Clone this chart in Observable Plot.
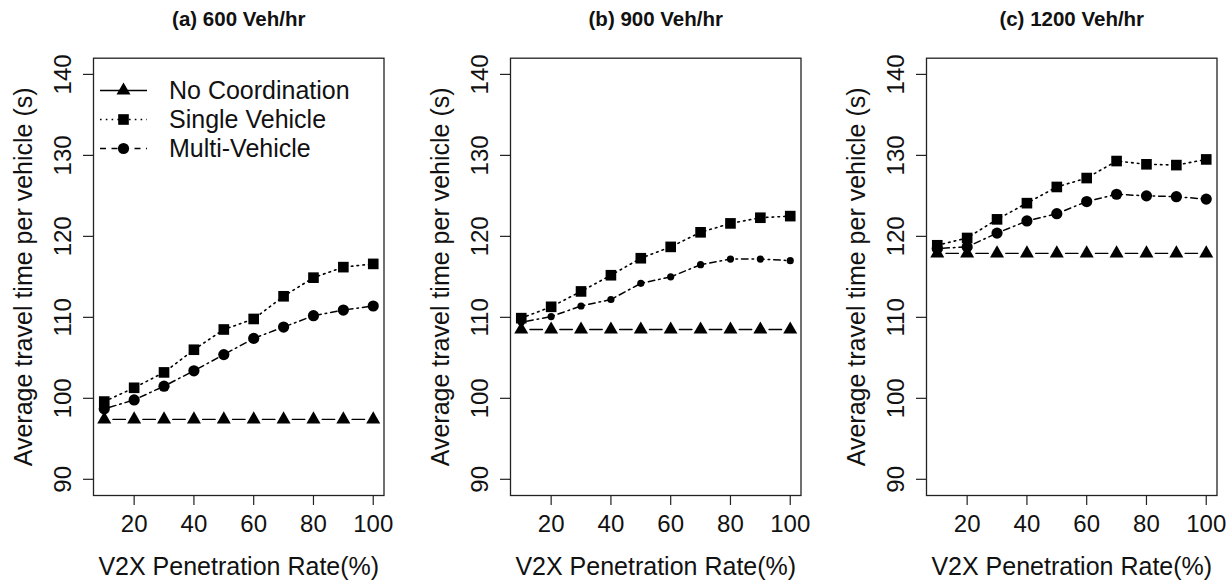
<!DOCTYPE html>
<html>
<head>
<meta charset="utf-8">
<script src="https://cdn.jsdelivr.net/npm/d3@7"></script>
<script src="https://cdn.jsdelivr.net/npm/@observablehq/plot@0.6"></script>
<style>
  html, body { margin: 0; padding: 0; background: #fff; overflow: hidden; }
  #root { position: relative; width: 1232px; height: 581px; overflow: hidden; font-family: "Liberation Sans", Arial, sans-serif; }
  .panel { position: absolute; top: 0; width: 416px; height: 581px; }
  .panel svg { max-width: none !important; width: 416px; height: 581px; }
  #legend { position: absolute; left: 100px; top: 75.5px; font-size: 25px; color: #111; }
  #legend .row { height: 29px; line-height: 29px; display: flex; align-items: center; white-space: nowrap; }
  #legend svg { display: block; margin-right: 22px; }
</style>
</head>
<body>
<div id="root"></div>
<script>
// ---------------- data ----------------
const penetration = [10, 20, 30, 40, 50, 60, 70, 80, 90, 100];

const panelTitles = ["(a) 600 Veh/hr", "(b) 900 Veh/hr", "(c) 1200 Veh/hr"];
const seriesNames = ["No Coordination", "Single Vehicle", "Multi-Vehicle"];

// (a) 600 Veh/hr
const noCoord600 = [97.4, 97.4, 97.4, 97.4, 97.4, 97.4, 97.4, 97.4, 97.4, 97.4];
const single600  = [99.6, 101.3, 103.2, 106.0, 108.5, 109.8, 112.6, 114.9, 116.2, 116.6];
const multi600   = [98.7, 99.8, 101.5, 103.4, 105.4, 107.4, 108.8, 110.2, 110.9, 111.4];

// (b) 900 Veh/hr
const noCoord900 = [108.5, 108.5, 108.5, 108.5, 108.5, 108.5, 108.5, 108.5, 108.5, 108.5];
const single900  = [109.9, 111.3, 113.2, 115.2, 117.3, 118.7, 120.5, 121.6, 122.3, 122.5];
const multi900   = [109.4, 110.1, 111.4, 112.2, 114.2, 115.0, 116.5, 117.2, 117.2, 117.0];

// (c) 1200 Veh/hr
const noCoord1200 = [117.9, 117.9, 117.9, 117.9, 117.9, 117.9, 117.9, 117.9, 117.9, 117.9];
const single1200  = [118.9, 119.8, 122.1, 124.1, 126.1, 127.2, 129.3, 128.9, 128.8, 129.5];
const multi1200   = [118.5, 118.7, 120.4, 121.9, 122.8, 124.3, 125.2, 125.0, 124.9, 124.6];

const xTicks = [20, 40, 60, 80, 100];
const yTicks = [90, 100, 110, 120, 130, 140];
const xLabel = "V2X Penetration Rate(%)";
const yLabel = "Average travel time per vehicle (s)";

// ---------------- drawing ----------------
const panels = [
  {title: panelTitles[0], series: [noCoord600, single600, multi600], left: 0, circleR: 5.6},
  {title: panelTitles[1], series: [noCoord900, single900, multi900], left: 417, circleR: 3.6},
  {title: panelTitles[2], series: [noCoord1200, single1200, multi1200], left: 833, circleR: 5.6}
];

const rowsOf = (vals) => penetration.map((x, i) => ({x, y: vals[i]}));
const FONT = "'Liberation Sans', Arial, sans-serif";

const root = document.getElementById("root");

panels.forEach((p) => {
  const [nc, sv, mv] = p.series.map(rowsOf);
  const chart = Plot.plot({
    width: 416,
    height: 581,
    marginLeft: 93,
    marginRight: 32.5,
    marginTop: 57.7,
    marginBottom: 86,
    style: {fontFamily: FONT, color: "#111", background: "#fff", overflow: "visible"},
    x: {domain: [6.4, 103.6]},
    y: {domain: [88, 142]},
    marks: [
      Plot.axisX({ticks: xTicks, tickSize: 10, tickPadding: 9, fontSize: 24, label: null, stroke: "#222", strokeWidth: 1.2}),
      Plot.axisY({ticks: yTicks, tickSize: 10, tickPadding: 13, tickRotate: -90, fontSize: 24, label: null, stroke: "#222", strokeWidth: 1.2}),
      // no coordination: dashed, one dash between markers
      Plot.line(nc, {x: "x", y: "y", stroke: "#000", strokeWidth: 1.4, strokeDasharray: "12.5,17.39", strokeDashoffset: 21.2}),
      Plot.line(sv, {x: "x", y: "y", stroke: "#000", strokeWidth: 1.6, strokeDasharray: "1.6,4.2"}),
      Plot.line(mv, {x: "x", y: "y", stroke: "#000", strokeWidth: 1.5, strokeDasharray: "1.6,4,6.5,4"}),
      Plot.dot(nc, {x: "x", y: "y", symbol: "triangle", r: 5.2, fill: "#000", stroke: null}),
      Plot.dot(sv, {x: "x", y: "y", symbol: "square", r: 6.0, fill: "#000", stroke: null}),
      Plot.dot(mv, {x: "x", y: "y", symbol: "circle", r: p.circleR, fill: "#000", stroke: null}),
      Plot.frame({stroke: "#222", strokeWidth: 1.3}),
      Plot.text([p.title], {frameAnchor: "top", dy: -39, textAnchor: "middle", lineAnchor: "middle", fontSize: 20.5, fontWeight: "bold", fill: "#111"}),
      Plot.text([xLabel], {frameAnchor: "bottom", dy: 71, textAnchor: "middle", lineAnchor: "middle", fontSize: 25, fill: "#111"}),
      Plot.text([yLabel], {frameAnchor: "left", dx: -70, rotate: -90, textAnchor: "middle", lineAnchor: "middle", fontSize: 25, fill: "#111"})
    ]
  });
  chart.style.maxWidth = "none";
  const holder = document.createElement("div");
  holder.className = "panel";
  holder.style.left = p.left + "px";
  holder.appendChild(chart);
  root.appendChild(holder);
});

// ---------------- legend (panel a, top-left) ----------------
const legendStyles = [
  {dash: null, symbol: d3.symbolTriangle, r: 5.2},
  {dash: "1.6,4.2", symbol: d3.symbolSquare, r: 6.0},
  {dash: "6,5.5", symbol: d3.symbolCircle, r: 5.6}
];
const legend = document.createElement("div");
legend.id = "legend";
seriesNames.forEach((name, i) => {
  const st = legendStyles[i];
  const row = document.createElement("div");
  row.className = "row";
  const svg = d3.create("svg").attr("width", 47).attr("height", 29);
  svg.append("line").attr("x1", 0).attr("x2", 47).attr("y1", 14.5).attr("y2", 14.5)
    .attr("stroke", "#000").attr("stroke-width", 1.5)
    .attr("stroke-dasharray", st.dash);
  svg.append("path").attr("transform", "translate(23.5,14.5)")
    .attr("d", d3.symbol(st.symbol, st.r * st.r * Math.PI)()).attr("fill", "#000");
  row.appendChild(svg.node());
  const span = document.createElement("span");
  span.textContent = name;
  row.appendChild(span);
  legend.appendChild(row);
});
root.appendChild(legend);
</script>
</body>
</html>
